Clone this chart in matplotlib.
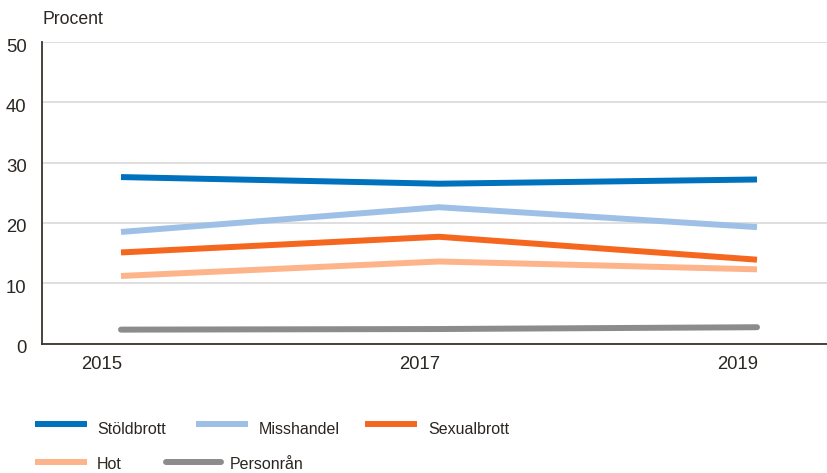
import matplotlib
matplotlib.use("Agg")
import matplotlib.pyplot as plt
from matplotlib.lines import Line2D
import matplotlib.transforms as mtransforms

plt.rcParams['font.family'] = ['Liberation Sans', 'DejaVu Sans']

years = [2015, 2017, 2019]
series_names = ["Stöldbrott", "Misshandel", "Sexualbrott", "Hot", "Personrån"]
stoldbrott = [27.6, 26.5, 27.2]
misshandel = [18.5, 22.6, 19.3]
sexualbrott = [15.1, 17.7, 13.9]
hot = [11.2, 13.6, 12.3]
personran = [2.3, 2.4, 2.7]
y_ticks = [0, 10, 20, 30, 40, 50]

values = [stoldbrott, misshandel, sexualbrott, hot, personran]
colors = ["#0071BC", "#9EC0E6", "#F5661E", "#FDB48A", "#8C8C8C"]
caps = ["butt", "butt", "butt", "butt", "round"]
text_color = "#2B2622"

W, H = 828, 473
fig = plt.figure(figsize=(W / 100, H / 100), dpi=100)
ax = fig.add_axes([42 / W, 1 - 343.5 / H, (W - 42) / W, (343.5 - 42) / H])

for name, vals, c, cap in zip(series_names, values, colors, caps):
    ax.plot(years, vals, color=c, lw=4.3, solid_capstyle=cap, solid_joinstyle='round', zorder=3)

ax.set_ylim(0, 50)
ax.set_xlim(2015 - 79 / 159, 2019 + 71 / 159)
ax.set_yticks(y_ticks)
ax.set_xticks(years)
ax.set_xticklabels([str(y) for y in years], ha='right')
ax.tick_params(axis='both', length=0, labelsize=13.3, colors=text_color)
ax.tick_params(axis='x', pad=9)
ax.tick_params(axis='y', pad=11)
ax.grid(axis='y', color='#D9D9D9', lw=1.2)
ax.set_axisbelow(True)
for s in ['top', 'right']:
    ax.spines[s].set_visible(False)
for s in ['left', 'bottom']:
    ax.spines[s].set_color('#3A342E')
    ax.spines[s].set_linewidth(1.3)

xoff = mtransforms.ScaledTranslation(1 / 100, 0, fig.dpi_scale_trans)
for lbl in ax.get_xticklabels():
    lbl.set_transform(lbl.get_transform() + xoff)
yoff = mtransforms.ScaledTranslation(0, -3 / 100, fig.dpi_scale_trans)
for lbl in ax.get_yticklabels():
    lbl.set_transform(lbl.get_transform() + yoff)

fig.text(42 / W, 1 - 19.5 / H, "Procent", fontsize=12.7, color=text_color, ha='left', va='center')

# manual legend
legend_pos = [
    (35, 87, 97, 424),
    (196, 248, 259, 424),
    (365, 417, 428, 424),
    (35, 87, 97, 462),
    (166, 221, 230, 462),
]
for (x0, x1, xt, y), name, c, cap in zip(legend_pos, series_names, colors, caps):
    fig.add_artist(Line2D([x0 / W, x1 / W], [1 - y / H, 1 - y / H], transform=fig.transFigure,
                          color=c, lw=4.3, solid_capstyle=cap))
    ty = y + 5 if y < 440 else y + 2
    fig.text(xt / W, 1 - ty / H, name, fontsize=11.5, color=text_color, ha='left', va='center')

fig.savefig("out.png", dpi=100)
